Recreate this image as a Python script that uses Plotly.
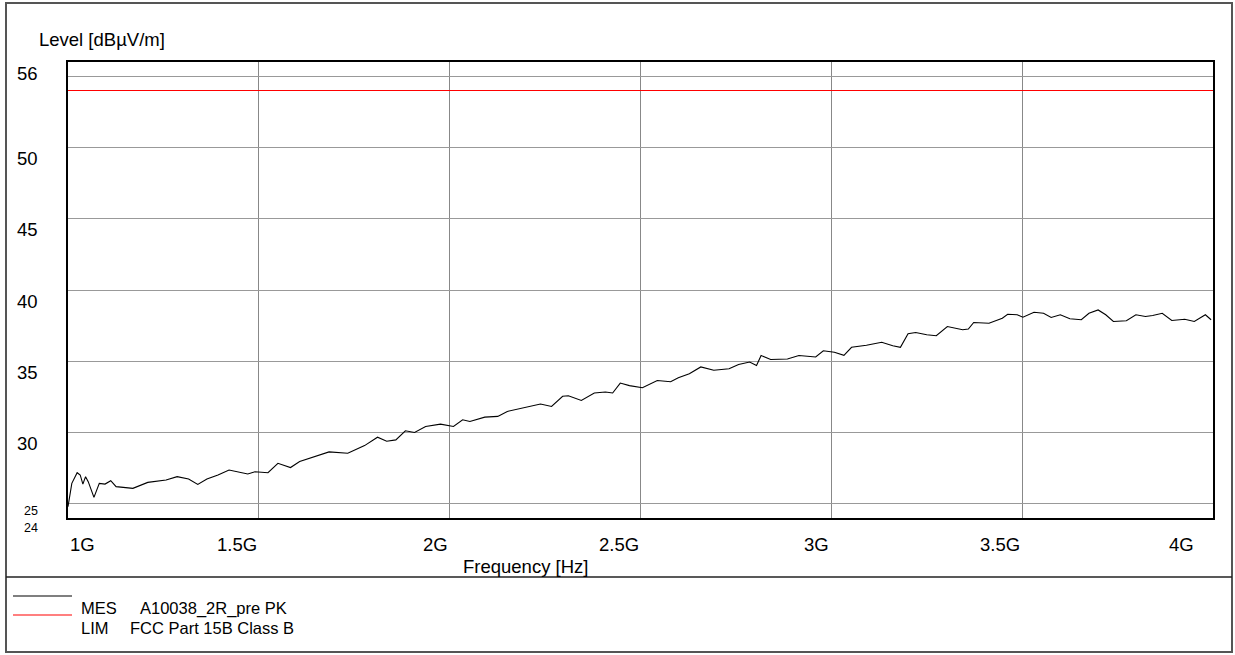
import plotly.graph_objects as go

# ---- data ----
mes_freq_ghz = [1.000, 1.010, 1.024, 1.032, 1.039, 1.046, 1.053, 1.068, 1.082, 1.097,
                1.112, 1.126, 1.170, 1.209, 1.257, 1.286, 1.316, 1.340, 1.364, 1.393,
                1.422, 1.442, 1.471, 1.490, 1.524, 1.550, 1.583, 1.607, 1.655, 1.684,
                1.733, 1.762, 1.777, 1.811, 1.835, 1.859, 1.884, 1.908, 1.937, 1.976,
                2.010, 2.034, 2.053, 2.092, 2.126, 2.151, 2.199, 2.238, 2.267, 2.296,
                2.311, 2.345, 2.379, 2.408, 2.427, 2.447, 2.471, 2.505, 2.544, 2.579,
                2.599, 2.628, 2.658, 2.692, 2.732, 2.757, 2.786, 2.804, 2.816, 2.841,
                2.885, 2.915, 2.959, 2.979, 3.008, 3.033, 3.053, 3.092, 3.132, 3.161,
                3.181, 3.201, 3.221, 3.250, 3.275, 3.304, 3.344, 3.359, 3.373, 3.413,
                3.448, 3.462, 3.487, 3.502, 3.531, 3.556, 3.576, 3.600, 3.625, 3.655,
                3.675, 3.699, 3.719, 3.739, 3.773, 3.798, 3.823, 3.842, 3.867, 3.892,
                3.926, 3.951, 3.980, 3.995]
mes_level = [24.79, 26.43, 27.18, 27.02, 26.38, 26.90, 26.55, 25.45, 26.43, 26.38,
             26.62, 26.20, 26.08, 26.50, 26.67, 26.90, 26.74, 26.36, 26.74, 27.02,
             27.37, 27.25, 27.09, 27.25, 27.18, 27.84, 27.54, 27.96, 28.38, 28.64,
             28.54, 28.90, 29.08, 29.67, 29.39, 29.48, 30.12, 30.00, 30.42, 30.59,
             30.42, 30.89, 30.77, 31.08, 31.13, 31.48, 31.78, 32.00, 31.83, 32.54,
             32.58, 32.25, 32.77, 32.84, 32.77, 33.47, 33.29, 33.14, 33.65, 33.56,
             33.84, 34.12, 34.60, 34.37, 34.47, 34.77, 34.95, 34.70, 35.40, 35.12,
             35.16, 35.40, 35.30, 35.74, 35.63, 35.42, 35.98, 36.12, 36.33, 36.09,
             35.98, 36.93, 37.02, 36.86, 36.79, 37.44, 37.21, 37.26, 37.72, 37.67,
             38.02, 38.30, 38.26, 38.09, 38.44, 38.37, 38.07, 38.26, 37.98, 37.91,
             38.37, 38.60, 38.26, 37.79, 37.84, 38.26, 38.14, 38.21, 38.37, 37.86,
             37.95, 37.79, 38.26, 37.91]

lim_freq_ghz = [1.0, 4.0]
lim_level = [54.0, 54.0]

x_tick_vals = [1.0, 1.5, 2.0, 2.5, 3.0, 3.5, 4.0]
x_tick_text = ["1G", "1.5G", "2G", "2.5G", "3G", "3.5G", "4G"]
y_grid_vals = [25, 30, 35, 40, 45, 50, 55]
y_label_vals = [56, 50, 45, 40, 35, 30, 25, 24]
y_label_text = ["56", "50", "45", "40", "35", "30", "25", "24"]

legend_names = ["MES", "LIM"]
legend_desc = ["A10038_2R_pre PK", "FCC Part 15B Class B"]

# ---- layout geometry ----
W, H = 1235, 655
ML, MR, MT, MB = 68, 22, 62, 137
PW, PH = W - ML - MR, H - MT - MB
FONT = "Arial, Liberation Sans, sans-serif"
FS = 18.5
FS_LEG = 16.5


def xp(px):
    return (px - ML) / PW


def yp(py):
    return (H - MB - py) / PH


fig = go.Figure()
fig.add_trace(go.Scatter(x=lim_freq_ghz, y=lim_level, mode="lines",
                         line=dict(color="#ff0000", width=1.2), hoverinfo="skip"))
fig.add_trace(go.Scatter(x=mes_freq_ghz, y=mes_level, mode="lines",
                         line=dict(color="#000000", width=1.1), hoverinfo="skip"))

annotations = []
# y labels (the 25 / 24 pair sits very close, as in the reference)
for v, t in zip(y_label_vals, y_label_text):
    if v == 25:
        fs, ys = 12.5, -7
    elif v == 24:
        fs, ys = 12.5, -10
    else:
        fs, ys = FS, -11
    annotations.append(dict(x=xp(39), xref="paper", y=v, yref="y", text=t,
                            xanchor="right", yanchor="middle", showarrow=False,
                            yshift=ys, borderpad=0,
                            font=dict(family=FONT, size=fs, color="black")))
# x labels
for i, (v, t) in enumerate(zip(x_tick_vals, x_tick_text)):
    if i == 0:
        anchor, shift = "left", 0
    elif i == len(x_tick_vals) - 1:
        anchor, shift = "right", -17
    else:
        anchor, shift = "right", 0
    annotations.append(dict(x=v, xref="x", y=yp(544), yref="paper", text=t,
                            xanchor=anchor, yanchor="middle", xshift=shift,
                            showarrow=False,
                            font=dict(family=FONT, size=FS, color="black")))
annotations.append(dict(x=xp(37), xref="paper", y=yp(40), yref="paper",
                        text="Level [dBµV/m]", xanchor="left", yanchor="middle",
                        showarrow=False, font=dict(family=FONT, size=FS, color="black")))
annotations.append(dict(x=xp(525), xref="paper", y=yp(566), yref="paper",
                        text="Frequency [Hz]", xanchor="center", yanchor="middle",
                        showarrow=False, font=dict(family=FONT, size=FS, color="black")))
# legend text
leg_y = [608, 628]
desc_x = [139, 129]
for n, d, ly, dx in zip(legend_names, legend_desc, leg_y, desc_x):
    annotations.append(dict(x=xp(80), xref="paper", y=yp(ly), yref="paper", text=n,
                            xanchor="left", yanchor="middle", showarrow=False,
                            borderpad=0,
                            font=dict(family=FONT, size=FS_LEG, color="black")))
    annotations.append(dict(x=xp(dx), xref="paper", y=yp(ly), yref="paper", text=d,
                            xanchor="left", yanchor="middle", showarrow=False,
                            borderpad=0,
                            font=dict(family=FONT, size=FS_LEG, color="black")))

shapes = [
    # outer frame
    dict(type="rect", xref="paper", yref="paper", x0=xp(6), x1=xp(1232),
         y0=yp(652), y1=yp(3), line=dict(color="#555555", width=2), layer="below"),
    # separator
    dict(type="line", xref="paper", yref="paper", x0=xp(6), x1=xp(1232),
         y0=yp(577), y1=yp(577), line=dict(color="#222222", width=1.5)),
    # legend lines
    dict(type="line", xref="paper", yref="paper", x0=xp(13), x1=xp(72),
         y0=yp(596), y1=yp(596), line=dict(color="#000000", width=1.2)),
    dict(type="line", xref="paper", yref="paper", x0=xp(13), x1=xp(72),
         y0=yp(615), y1=yp(615), line=dict(color="#ff0000", width=1.2)),
]

fig.update_layout(
    width=W, height=H,
    margin=dict(l=ML, r=MR, t=MT, b=MB, pad=0),
    paper_bgcolor="white", plot_bgcolor="white",
    showlegend=False,
    annotations=annotations,
    shapes=shapes,
    xaxis=dict(range=[1.0, 4.0], tickvals=x_tick_vals, showticklabels=False,
               ticks="", showgrid=True, gridcolor="#888888", gridwidth=1,
               zeroline=False, showline=True, mirror=True, linecolor="black",
               linewidth=2),
    yaxis=dict(range=[24, 56], tickvals=y_grid_vals, showticklabels=False,
               ticks="", showgrid=True, gridcolor="#999999", gridwidth=1,
               zeroline=False, showline=True, mirror=True, linecolor="black",
               linewidth=2),
)

fig.write_html(
    "out.html",
    config={"displayModeBar": False},
    post_script="document.body.style.margin='0px';"
                "document.documentElement.style.overflow='hidden';",
)
